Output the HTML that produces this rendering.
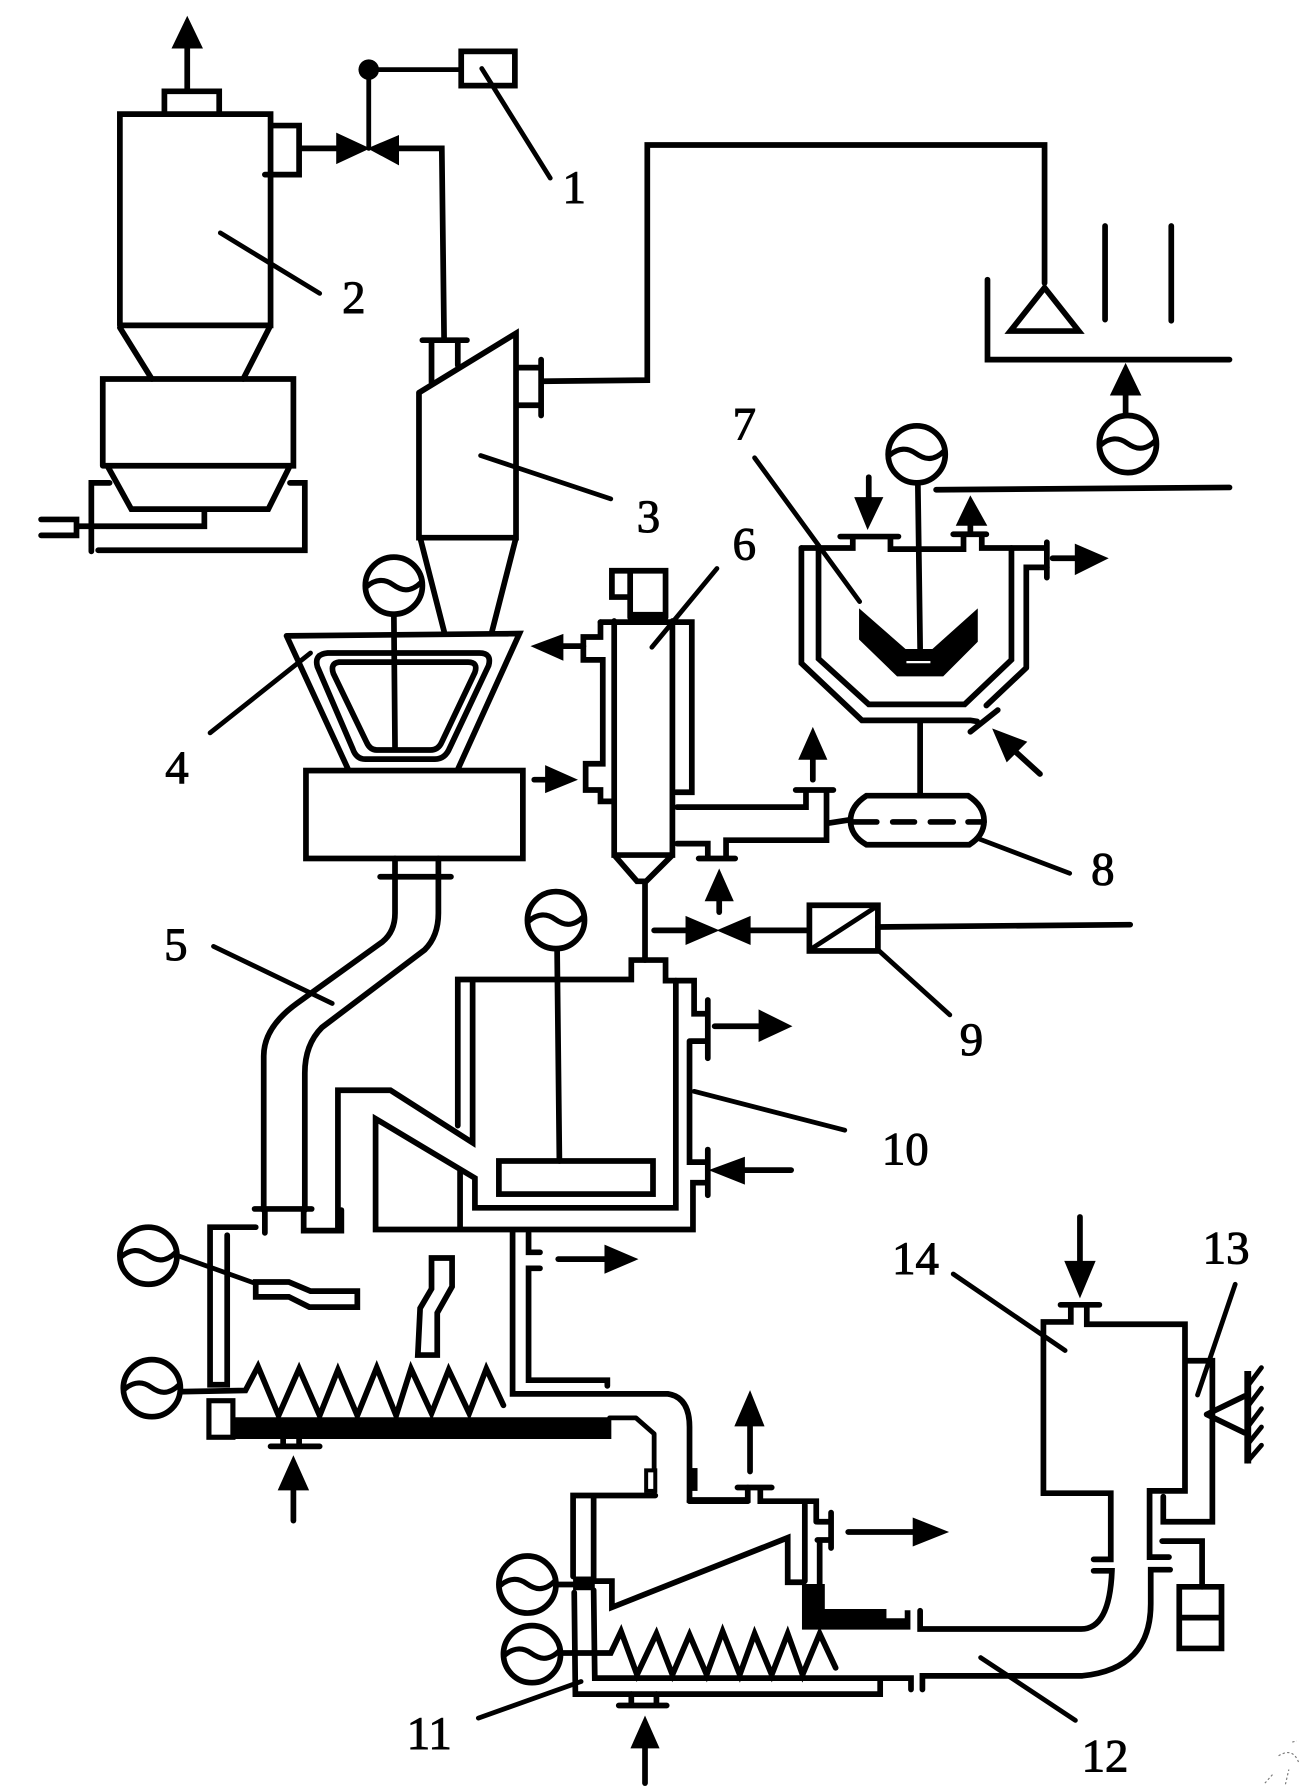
<!DOCTYPE html>
<html>
<head>
<meta charset="utf-8">
<style>
html,body{margin:0;padding:0;background:#fff;}
svg{display:block;width:1306px;height:1790px;}
.l{fill:none;stroke:#000;stroke-width:5;stroke-linejoin:miter;stroke-linecap:round;}
.t{fill:none;stroke:#000;stroke-width:4.2;stroke-linecap:round;stroke-linejoin:round;}
.b{fill:#000;stroke:#000;stroke-width:1;}
text{font-family:"Liberation Serif",serif;font-size:41px;fill:#000;stroke:#000;stroke-width:.9;text-anchor:middle;}
</style>
</head>
<body>
<svg xmlns="http://www.w3.org/2000/svg" width="1306" height="1790" viewBox="0 0 1144 1568">
<defs>
<g id="g">
<circle r="25" fill="#fff" stroke="#000" stroke-width="5"/>
<path d="M-24,1 C-16,-6 -8,-6 -1,-1 S14,7 24,-3" fill="none" stroke="#000" stroke-width="4.5"/>
</g>
</defs>
<rect width="1144" height="1568" fill="#fff"/>

<!-- Tank 2 -->
<path class="l" d="M164,78V40"/>
<polygon class="b" points="164,15 151,42 177,42"/>
<path class="l" d="M144,98V80H192V98"/>
<path class="l" d="M105,285V100H237V285H105M105,287L133,332M237,285L213,332"/>
<path class="l" d="M90,408V332H257V408H90M94,408L115,446H235L254,408"/>
<path class="l" d="M80,483V423H96M254,423H267V482H86M179,447V461H69M36,455H67V469H36"/>
<path class="l" d="M239,110H262V153H232M262,130H297"/>
<polygon class="b" points="295,117 295,143 323,130"/>
<polygon class="b" points="349,119 349,144 323,130"/>
<path class="t" d="M323,130V61H403"/>
<circle cx="323" cy="61" r="9" fill="#000"/>
<rect class="l" x="404" y="45" width="47" height="30"/>
<path class="l" d="M348,130H387L389,297"/>
<path class="t" d="M422,60L482,156M193,204L280,257"/>

<!-- Cyclone 3 -->
<path class="l" d="M370,298H409M378,298V335M401,298V320"/>
<path class="l" d="M367,344L452,292V471H367V344M368,471L389,553M452,471L431,553"/>
<path class="l" d="M474,315V364M454,322H474M454,355H474M475,334L567,333V127H915V248"/>
<path class="t" d="M421,399L535,437"/>

<!-- Right upper -->
<path class="l" d="M915,252L885,290H945Z"/>
<path class="l" d="M968,198V280M1026,198V281M865,245V315H1077"/>
<path class="l" d="M986,362V345"/>
<polygon class="b" points="986,319 973,346 999,346"/>
<use href="#g" x="988" y="389"/>
<path class="l" d="M820,429L1077,427"/>

<!-- Vessel 7 -->
<use href="#g" x="803" y="398"/>
<path class="l" d="M804,423L806,568"/>
<path class="l" d="M761,418V448"/>
<polygon class="b" points="749,436 773,436 760,463"/>
<path class="l" d="M702,480H747V471M736,470H787M780,470V481H844V470M835,468H864M860,470V480H915M917,475V506M850,468V455"/>
<polygon class="b" points="850,435 838,460 864,460"/>
<path class="l" d="M702,480V581L755,631H850L856,632M899,585V497H917M899,585L864,618M717,480V577L761,617H845L886,578V480"/>
<path class="l" d="M850,641L874,622"/>
<path class="l" d="M922,489H944"/>
<polygon class="b" points="942,477 942,503 970,489"/>
<polygon class="b" points="753,534 793,569 817,569 856,534 856,562 826,592 786,592 753,560"/>
<path d="M794,580H815" stroke="#fff" stroke-width="2" fill="none"/>
<path class="l" d="M806,631V696"/>
<path class="t" d="M661,401L753,527"/>
<path class="l" d="M911,678L889,658"/>
<polygon class="b" points="870,639 899,650 882,667"/>

<!-- Device 8 -->
<path class="l" d="M759,697H848Q862,706 862,719Q862,732 849,740H759Q745,732 745,719Q745,706 759,697Z"/>
<path class="l" d="M745,720H768M782,720H801M815,720H835M848,720H862M726,721L745,718"/>
<path class="t" d="M858,735L937,765"/>

<!-- Mixer 4 -->
<use href="#g" x="345" y="513"/>
<path class="l" d="M345,538L346,654"/>
<path class="l" d="M251,557L455,555L401,674M251,557L305,674"/>
<path class="l" d="M287,572H420Q431,572 428,583L394,655Q390,665 381,665H320Q312,665 309,656L278,584Q275,573 287,572Z"/>
<path class="l" d="M297,580H410Q419,580 416,589L387,650Q384,657 377,657H330Q324,657 321,650L292,590Q289,581 297,580Z"/>
<rect class="l" x="268" y="675" width="190" height="77"/>
<path class="l" d="M333,768H395"/>
<path class="l" d="M346,752V800Q346,816 335,825L260,879Q231,900 231,925V1060"/>
<path class="l" d="M384,752V800Q384,820 372,832L282,900Q267,915 267,940V1060"/>
<path class="t" d="M272,572L184,642M187,829L291,879"/>

<!-- Column 6 -->
<path class="l" d="M552,541V500H583V541M536,500H552V523H536Z"/>
<rect x="551" y="536" width="33" height="11" fill="#000"/>
<path class="l" d="M538,544V749H589V544M526,545H589M538,749L558,772H566L589,749M565,772V841"/>
<path class="l" d="M591,545H606V694H592"/>
<path class="l" d="M526,545V558H511V578H528V669H513V692H526V702H538"/>
<path class="t" d="M628,498L571,567"/>
<path class="l" d="M490,566H511"/>
<polygon class="b" points="466,566 493,556 493,578"/>
<path class="l" d="M468,683H480"/>
<polygon class="b" points="478,671 478,694 505,683"/>
<path class="l" d="M593,707H706V694M697,692H730M724,694V736H636V752M593,739H620V752M612,752H644"/>
<path class="l" d="M630,799V786"/>
<polygon class="b" points="630,762 618,789 642,789"/>
<path class="l" d="M712,683V663"/>
<polygon class="b" points="712,638 700,665 724,665"/>

<!-- Valve 2 and box 9 -->
<path class="l" d="M573,815H601M657,815H708"/>
<polygon class="b" points="601,803 601,827 629,815"/>
<polygon class="b" points="657,803 657,827 629,815"/>
<rect class="l" x="709" y="793" width="60" height="40"/>
<path class="t" d="M711,831L768,794"/>
<path class="l" d="M769,812L990,810"/>
<path class="t" d="M769,832L832,889"/>

<!-- Vessel 10 -->
<use href="#g" x="487" y="806"/>
<path class="l" d="M488,832L490,1017"/>
<path class="l" d="M401,986V858H553V841H583V859H608V888H620M620,876V927M605,912H620"/>
<path class="l" d="M414,859V1001L342,955H296V1078"/>
<path class="l" d="M592,859V1058H416V1032L329,980V1077H607V1036H620M620,1007V1047M604,912V1018H620M403,1025V1077"/>
<rect class="l" x="437" y="1017" width="135" height="29"/>
<path class="t" d="M608,956L740,990"/>
<path class="l" d="M626,899H667"/>
<polygon class="b" points="665,885 665,912 693,899"/>
<path class="l" d="M652,1025H693"/>
<polygon class="b" points="622,1025 652,1014 652,1037"/>

<!-- Outlet pipes -->
<path class="l" d="M449,1079V1221H585Q604,1224 604,1250V1314H655V1303M463,1080V1097H473M473,1111H463V1209H532V1214"/>
<path class="l" d="M489,1103H532"/>
<polygon class="b" points="530,1091 530,1115 558,1103"/>
<rect x="602" y="1286" width="9" height="20" fill="#000"/>

<!-- Lower left chamber -->
<path class="l" d="M224,1075H184V1213H199V1082M223,1059H273M232,1059V1080M266,1060V1078H299V1060"/>
<use href="#g" x="130" y="1100"/>
<path class="t" d="M156,1100L223,1124"/>
<path class="l" d="M224,1123H253L272,1131H313V1145H271L253,1136H224Z"/>
<path class="l" d="M378,1102H396V1127L383,1150V1187H366L368,1146L378,1129Z"/>
<use href="#g" x="133" y="1216"/>
<path class="l" d="M160,1219L215,1218L226,1197L244,1240L262,1199L280,1240L296,1200L313,1240L330,1198L347,1240L360,1199L378,1238L393,1200L411,1238L426,1199L441,1231"/>
<polygon class="b" points="201,1242 535,1242 535,1260 201,1260"/>
<rect x="183" y="1227" width="21" height="32" fill="#fff" stroke="#000" stroke-width="4.5"/>
<path class="t" d="M534,1242H557L573,1256V1308"/>
<rect x="566" y="1288" width="8" height="18" fill="#fff" stroke="#000" stroke-width="3.5"/>
<path class="l" d="M574,1310H502V1381M520,1311V1384M237,1267H280M248,1260V1267M262,1260V1267"/>
<path class="l" d="M257,1304V1332"/>
<polygon class="b" points="257,1276 244,1305 270,1305"/>

<!-- Lower unit 11 -->
<rect x="502" y="1381" width="19" height="12" fill="#000"/>
<use href="#g" x="462" y="1388"/>
<use href="#g" x="466" y="1449"/>
<path class="l" d="M488,1388H502M492,1448H535L544,1429L558,1467L575,1431L589,1467L604,1432L619,1467L633,1429L648,1467L661,1431L676,1467L690,1431L703,1467L718,1431L732,1461"/>
<path class="l" d="M520,1385H536V1408L690,1347V1386H704M503,1395L504,1484H771V1472M520,1393L521,1470H798V1480M808,1480V1468H948Q1008,1462 1008,1405V1375H1025"/>
<path class="l" d="M716,1333H727M728,1325V1356M716,1349H728M718,1349V1388M705,1318V1385M604,1315H655M666,1303V1315H715V1333M646,1303H676"/>
<path class="l" d="M657,1289V1246"/>
<polygon class="b" points="657,1219 644,1249 669,1249"/>
<polygon class="b" points="703,1388 722,1388 722,1410 776,1410 776,1418 793,1418 793,1411 797,1411 797,1427 703,1427"/>
<path class="l" d="M743,1342H802"/>
<polygon class="b" points="800,1330 800,1354 830,1342"/>
<path class="l" d="M542,1494H584M553,1484V1494M575,1484V1494"/>
<path class="l" d="M565,1530V1562"/>
<polygon class="b" points="565,1504 553,1531 577,1531"/>
<path class="t" d="M419,1505L509,1473"/>

<!-- Tank 14 -->
<path class="l" d="M946,1066V1108"/>
<polygon class="b" points="933,1105 959,1105 946,1136"/>
<path class="l" d="M929,1143H963M938,1144V1158H914V1308H973V1366H958M952,1144V1160H1038V1306H1007V1364H1024"/>
<path class="l" d="M958,1376H974Q972,1427 947,1427H806V1411"/>
<path class="t" d="M835,1116L933,1183M1082,1125L1049,1222M859,1452L942,1507"/>

<!-- Box 13 -->
<path class="l" d="M1040,1192H1062V1333H1019V1311"/>
<path class="l" d="M1057,1239L1090,1223M1057,1239L1090,1255"/>
<path d="M1093,1201V1282" stroke="#000" stroke-width="6" fill="none"/>
<path class="t" d="M1093,1214L1105,1198M1093,1232L1105,1216M1093,1250L1105,1234M1093,1265L1105,1250M1093,1280L1105,1266"/>
<path class="l" d="M1018,1350H1053V1390"/>
<path class="l" d="M1033,1390H1070V1444H1033ZM1033,1417H1070"/>

<!-- Speckle -->
<path d="M1120,1538Q1133,1530 1138,1545M1108,1562L1116,1553M1126,1563L1129,1550M1132,1526L1136,1525" fill="none" stroke="#777" stroke-width="1" stroke-dasharray="2 2"/>

<!-- Labels -->
<text x="503" y="178">1</text>
<text x="310" y="274">2</text>
<text x="568" y="466">3</text>
<text x="155" y="686">4</text>
<text x="154" y="841">5</text>
<text x="652" y="490">6</text>
<text x="652" y="385">7</text>
<text x="966" y="775">8</text>
<text x="851" y="924">9</text>
<text x="793" y="1020">10</text>
<text x="376" y="1532">11</text>
<text x="968" y="1552">12</text>
<text x="1074" y="1107">13</text>
<text x="802" y="1116">14</text>
</svg>
</body>
</html>
